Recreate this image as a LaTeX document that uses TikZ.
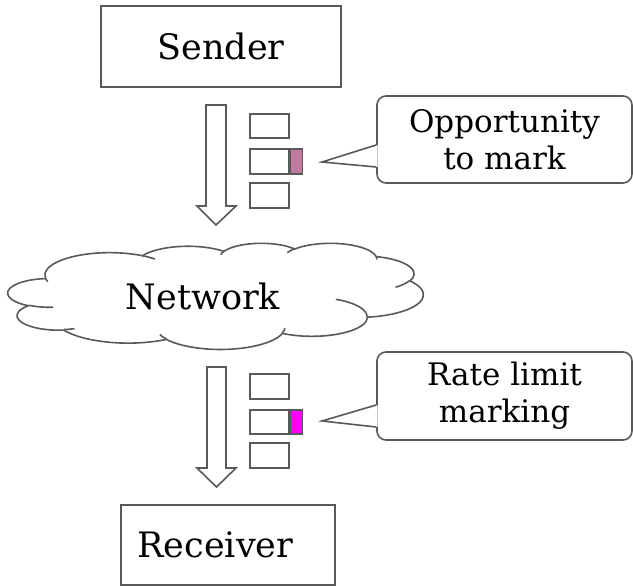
\documentclass[tikz,border=0pt]{standalone}
\usepackage{fontspec}
\setmainfont{DejaVu Serif}
\usetikzlibrary{calc}
\definecolor{linegray}{HTML}{595959}
\definecolor{mauve}{HTML}{C27BA0}
\definecolor{magentaC}{HTML}{FF00FF}
\tikzset{
  box/.style={draw=linegray, line width=1.6pt, fill=white, inner sep=0pt,
              font=\fontsize{35}{42}\selectfont},
  callbody/.style={draw=linegray, line width=1.6pt, fill=white, rounded corners=9pt,
              inner sep=0pt, align=center, font=\fontsize{31}{37}\selectfont},
  pkt/.style={draw=linegray, line width=1.6pt, minimum width=39pt, minimum height=24.5pt, inner sep=0pt},
  markcell/.style={draw=linegray, line width=1.6pt, minimum width=12pt, minimum height=24.5pt, inner sep=0pt, anchor=west},
  blockarrow/.style={draw=linegray, line width=1.6pt, fill=white, line join=miter},
  cloudline/.style={draw=linegray, line width=1.6pt},
  txt/.style={font=\fontsize{35}{42}\selectfont, inner sep=0pt}
}
% OOXML-style elliptical arc: name, wR, hR, start (deg), sweep (deg)
\def\sxk{0.00960648}
\def\syk{0.0024537}
\newcommand\ooprep[5]{%
  \pgfmathsetmacro\tmpA{atan2(#2*sin(#4), #3*cos(#4))}%
  \pgfmathsetmacro\tmpB{atan2(#2*sin(#4+#5), #3*cos(#4+#5))}%
  \pgfmathsetmacro\tmpD{\tmpB-\tmpA}%
  \pgfmathsetmacro\tmpD{(#5>0)*((\tmpD)<0)*360-(#5<0)*((\tmpD)>0)*360+(\tmpD)}%
  \pgfmathsetmacro\tmpS{-(\tmpA)}%
  \pgfmathsetmacro\tmpE{-(\tmpA)-(\tmpD)}%
  \pgfmathsetmacro\tmpX{#2*\sxk}%
  \pgfmathsetmacro\tmpY{#3*\syk}%
  \expandafter\xdef\csname cl#1s\endcsname{\tmpS}%
  \expandafter\xdef\csname cl#1e\endcsname{\tmpE}%
  \expandafter\xdef\csname cl#1x\endcsname{\tmpX}%
  \expandafter\xdef\csname cl#1y\endcsname{\tmpY}%
}
\ooprep{A}{6753}{9190}{-190.4875}{123.7805}
\ooprep{B}{5333}{7267}{-144.1024}{89.9452}
\ooprep{C}{4365}{5945}{-145.8079}{99.7230}
\ooprep{D}{4857}{6595}{-130.9861}{117.2417}
\ooprep{E}{5333}{7273}{-78.7089}{109.0269}
\ooprep{F}{6775}{9220}{-46.2673}{130.2690}
\ooprep{G}{5785}{7867}{0.6250}{114.0333}
\ooprep{H}{6752}{9215}{22.4516}{115.1726}
\ooprep{I}{7720}{10543}{66.2426}{75.7110}
\ooprep{J}{4360}{5918}{-274.9421}{146.7356}
\ooprep{K}{4345}{5945}{-246.8285}{152.5189}
% inner curls
\ooprep{a}{4345}{5945}{86.7420}{26.4295}
\ooprep{b}{4360}{5918}{73.6105}{11.4475}
\ooprep{c}{6752}{9215}{137.6242}{14.0811}
\ooprep{d}{6752}{9215}{6.4533}{15.9984}
\ooprep{e}{5785}{7867}{-70.2924}{70.9174}
\ooprep{f}{5333}{7273}{30.3180}{27.7515}
\ooprep{g}{4857}{6595}{-13.7443}{14.8589}
\ooprep{h}{4857}{6595}{-149.1815}{18.1954}
\ooprep{i}{4365}{5945}{-163.4943}{17.6864}
\ooprep{j}{6753}{9190}{-66.7070}{12.3194}
\ooprep{k}{6753}{9190}{157.6544}{11.8582}
\begin{document}
\begin{tikzpicture}[x=1pt,y=-1pt]
\useasboundingbox (0,0) rectangle (633,586);
% sender / receiver
\node[box, minimum width=240pt, minimum height=81pt] (sender) at (221,46.5) {Sender};
\node[box, minimum width=214pt, minimum height=80pt] (receiver) at (228,544.8) {Receiver\hspace*{25pt}};
% cloud
\coordinate (cl0) at ({8+3.9*9.60648},{243+14.37*2.4537});
\draw[cloudline, fill=white] (cl0)
  arc[start angle=\clAs, end angle=\clAe, x radius=\clAx pt, y radius=\clAy pt]
  arc[start angle=\clBs, end angle=\clBe, x radius=\clBx pt, y radius=\clBy pt]
  arc[start angle=\clCs, end angle=\clCe, x radius=\clCx pt, y radius=\clCy pt]
  arc[start angle=\clDs, end angle=\clDe, x radius=\clDx pt, y radius=\clDy pt]
  arc[start angle=\clEs, end angle=\clEe, x radius=\clEx pt, y radius=\clEy pt]
  arc[start angle=\clFs, end angle=\clFe, x radius=\clFx pt, y radius=\clFy pt]
  arc[start angle=\clGs, end angle=\clGe, x radius=\clGx pt, y radius=\clGy pt]
  arc[start angle=\clHs, end angle=\clHe, x radius=\clHx pt, y radius=\clHy pt]
  arc[start angle=\clIs, end angle=\clIe, x radius=\clIx pt, y radius=\clIy pt]
  arc[start angle=\clJs, end angle=\clJe, x radius=\clJx pt, y radius=\clJy pt]
  arc[start angle=\clKs, end angle=\clKe, x radius=\clKx pt, y radius=\clKy pt]
  -- cycle;
\draw[cloudline]
  ({8+4.693*9.60648},{243+26.177*2.4537}) arc[start angle=\clas, end angle=\clae, x radius=\clax pt, y radius=\clay pt]
  ({8+6.928*9.60648},{243+34.899*2.4537}) arc[start angle=\clbs, end angle=\clbe, x radius=\clbx pt, y radius=\clby pt]
  ({8+16.478*9.60648},{243+39.09*2.4537}) arc[start angle=\clcs, end angle=\clce, x radius=\clcx pt, y radius=\clcy pt]
  ({8+28.827*9.60648},{243+34.751*2.4537}) arc[start angle=\clds, end angle=\clde, x radius=\cldx pt, y radius=\cldy pt]
  ({8+34.129*9.60648},{243+22.954*2.4537}) arc[start angle=\cles, end angle=\clee, x radius=\clex pt, y radius=\cley pt]
  ({8+41.798*9.60648},{243+15.354*2.4537}) arc[start angle=\clfs, end angle=\clfe, x radius=\clfx pt, y radius=\clfy pt]
  ({8+38.324*9.60648},{243+5.426*2.4537}) arc[start angle=\clgs, end angle=\clge, x radius=\clgx pt, y radius=\clgy pt]
  ({8+29.078*9.60648},{243+3.952*2.4537}) arc[start angle=\clhs, end angle=\clhe, x radius=\clhx pt, y radius=\clhy pt]
  ({8+22.141*9.60648},{243+4.72*2.4537}) arc[start angle=\clis, end angle=\clie, x radius=\clix pt, y radius=\cliy pt]
  ({8+14.0*9.60648},{243+5.192*2.4537}) arc[start angle=\cljs, end angle=\clje, x radius=\cljx pt, y radius=\cljy pt]
  ({8+4.127*9.60648},{243+15.789*2.4537}) arc[start angle=\clks, end angle=\clke, x radius=\clkx pt, y radius=\clky pt];
\node[txt] (net) at (203,296) {Network};
% block arrows
\draw[blockarrow] (206,105) -- (226,105) -- (226,206) -- (236,206) -- (216,225) -- (197,206) -- (206,206) -- cycle;
\draw[blockarrow] (207,367) -- (226,367) -- (226,468) -- (236,468) -- (216.5,487) -- (197,468) -- (207,468) -- cycle;
% packets 1
\node[pkt] (p1a) at (269.5,126) {};
\node[pkt] (p1b) at (269.5,161.5) {};
\node[pkt] (p1c) at (269.5,195.5) {};
\node[markcell, fill=mauve] (m1) at (p1b.east) {};
% packets 2
\node[pkt] (p2a) at (269.5,386.5) {};
\node[pkt] (p2b) at (269.5,422) {};
\node[pkt] (p2c) at (269.5,455.5) {};
\node[markcell, fill=magentaC] (m2) at (p2b.east) {};
% callouts
\node[callbody, minimum width=255pt, minimum height=87pt] (c1) at (504.5,139.5) {Opportunity\\to mark};
\coordinate (t1) at (322,162);
\fill[white] ($(c1.west)+(1.5,5.5)$) -- (t1) -- ($(c1.west)+(1.5,27.5)$) -- cycle;
\draw[linegray, line width=1.6pt, line join=miter] ($(c1.west)+(0,5.5)$) -- (t1) -- ($(c1.west)+(0,27.5)$);
\node[callbody, minimum width=255pt, minimum height=88pt] (c2) at (504.5,396) {Rate limit\\marking};
\coordinate (t2) at (322,421);
\fill[white] ($(c2.west)+(1.5,9)$) -- (t2) -- ($(c2.west)+(1.5,31)$) -- cycle;
\draw[linegray, line width=1.6pt, line join=miter] ($(c2.west)+(0,9)$) -- (t2) -- ($(c2.west)+(0,31)$);
\end{tikzpicture}
\end{document}
